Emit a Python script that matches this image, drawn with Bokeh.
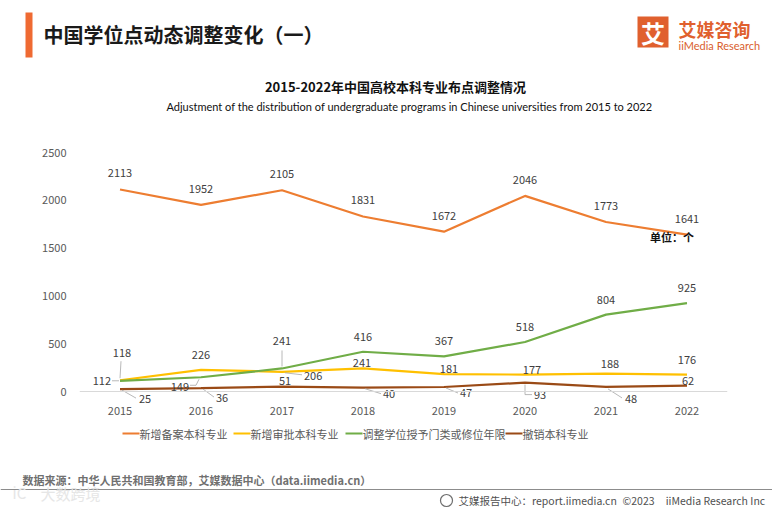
import numpy as np
from bokeh.plotting import figure
from bokeh.models import Range1d, FixedTicker, Span
from bokeh.layouts import column
from bokeh.core.properties import value
from bokeh.embed import file_html
from bokeh.resources import INLINE

# ---------------- data ----------------
years = ["2015", "2016", "2017", "2018", "2019", "2020", "2021", "2022"]
beian = [2113, 1952, 2105, 1831, 1672, 2046, 1773, 1641]      # 新增备案本科专业
shenpi = [118, 226, 206, 241, 181, 177, 188, 176]             # 新增审批本科专业
tiaozheng = [112, 149, 241, 416, 367, 518, 804, 925]          # 调整学位授予门类或修位年限
chexiao = [25, 36, 51, 40, 47, 93, 48, 62]                    # 撤销本科专业
series_names = ["新增备案本科专业", "新增审批本科专业", "调整学位授予门类或修位年限", "撤销本科专业"]
y_ticks = [0, 500, 1000, 1500, 2000, 2500]

# ---------------- styles ----------------
colors = ["#ED7D31", "#FFC000", "#70AD47", "#9A4A16"]
CJK = "Noto Sans CJK SC"
LAT = "Lato"
W = 772
FRAME_W = 648
PX_PER_UNIT_Y = 239 / 2500      # px per data unit
Y_MAX = 2500
Y_MIN = -13 / PX_PER_UNIT_Y      # room below the zero line for labels

# label offsets (px) and alignment per series
lab_beian = dict(dx=[0]*8, dy=[-16]*8, align=["center"]*8)
lab_shenpi = dict(dx=[2, 0, 22, -1, 5, 7, 4, 0],
                  dy=[-27, -15, 4, -5, -5, -5, -10, -15],
                  align=["center", "center", "left", "center", "center", "center", "center", "center"])
lab_tiao = dict(dx=[-9, -12, 0, 0, 0, 0, 0, 0],
                dy=[0, 10, -27, -15, -15, -15, -15, -15],
                align=["right", "right", "center", "center", "center", "center", "center", "center"])
lab_chex = dict(dx=[19, 15, 3, 20, 16, 9, 19, 1],
                dy=[10, 10, -6, 6, 6, 12, 12, -5],
                align=["left", "left", "center", "left", "left", "left", "left", "center"])

# leader lines: (series, index, dx0, dy0, dx1, dy1) in px
leaders = [
    ("t", 0, -1, 0, -8, 0),
    ("t", 1, -2, 2, -5, 8), ("t", 1, -5, 8, -11, 8),
    ("t", 2, 0, -2, 0, -18),
    ("s", 0, 0, -2, 1, -19),
    ("s", 2, 3, 1, 20, 3),
    ("c", 0, 2, 1, 16, 9),
    ("c", 1, 2, 1, 13, 9),
    ("c", 3, 2, 1, 18, 6),
    ("c", 4, 2, 1, 14, 6),
    ("c", 5, 0, 2, 0, 12), ("c", 5, 0, 12, 7, 12),
    ("c", 6, 2, 2, 16, 11),
]


def blank(h):
    f = figure(width=W, height=h, x_range=Range1d(0, W), y_range=Range1d(h, 0),
               x_axis_type=None, y_axis_type=None, toolbar_location=None,
               output_backend="svg", min_border=0, outline_line_color=None)
    f.grid.visible = False
    if "frame_align" in f.properties():
        f.frame_align = False
    return f


# ---------------- header ----------------
hdr = blank(132)
hdr.quad(left=[25], right=[32], top=[12], bottom=[57], color="#EF6A32", line_color=None)
hdr.text(x=[43], y=[34], text=["中国学位点动态调整变化（一）"], text_font=value(CJK),
         text_font_size="20px", text_font_style="bold", text_color="#1a1a1a",
         text_baseline="middle", text_align="left")
# logo
hdr.quad(left=[637], right=[668], top=[16], bottom=[47], color="#E0602E", line_color=None)
hdr.text(x=[652.5], y=[32], text=["艾"], text_font=value(CJK), text_font_size="24px",
         text_font_style="bold", text_color="white", text_align="center", text_baseline="middle")
hdr.text(x=[678], y=[28], text=["艾媒咨询"], text_font=value(CJK), text_font_size="18px",
         text_font_style="bold", text_color="#E0602E", text_align="left", text_baseline="middle")
hdr.text(x=[678], y=[45], text=["iiMedia Research"], text_font=value(LAT), text_font_size="11px",
         text_color="#D9602E", text_align="left", text_baseline="middle")
# chart titles
hdr.text(x=[395], y=[86], text=["2015-2022年中国高校本科专业布点调整情况"], text_font=value(CJK),
         text_font_size="13px", text_font_style="bold", text_color="#111111",
         text_align="center", text_baseline="middle")
hdr.text(x=[409], y=[106], text=["Adjustment of the distribution of undergraduate programs in Chinese universities from 2015 to 2022"],
         text_font=value(LAT), text_font_size="11px", text_color="#111111",
         text_align="center", text_baseline="middle")

# ---------------- main chart ----------------
p = figure(width=W, height=288, x_range=Range1d(0, len(years)), y_range=Range1d(Y_MIN, Y_MAX),
           toolbar_location=None, output_backend="svg",
           min_border_left=79, min_border_right=45, min_border_top=20, min_border_bottom=16,
           outline_line_color=None)
p.grid.visible = False
xs = np.arange(len(years)) + 0.5

p.add_layout(Span(location=0, dimension="width", line_color="#D9D9D9", line_width=1))

p.xaxis.ticker = FixedTicker(ticks=list(xs))
p.xaxis.major_label_overrides = {float(x): y for x, y in zip(xs, years)}
p.xaxis.axis_line_color = None
p.xaxis.major_tick_line_color = None
p.xaxis.minor_tick_line_color = None
p.xaxis.major_label_standoff = -4
p.xaxis.major_label_text_font = CJK
p.xaxis.major_label_text_font_size = "11px"
p.xaxis.major_label_text_color = "#595959"

p.yaxis.ticker = FixedTicker(ticks=y_ticks)
p.yaxis.axis_line_color = None
p.yaxis.major_tick_line_color = None
p.yaxis.minor_tick_line_color = None
p.yaxis.major_label_standoff = 7
p.yaxis.major_label_text_font = CJK
p.yaxis.major_label_text_font_size = "11px"
p.yaxis.major_label_text_color = "#595959"

all_series = [beian, shenpi, tiaozheng, chexiao]
all_labels = [lab_beian, lab_shenpi, lab_tiao, lab_chex]
for vals, col in zip(all_series, colors):
    p.line(xs, vals, line_color=col, line_width=2.2)

px_x = len(years) / FRAME_W
px_y = 1 / PX_PER_UNIT_Y
smap = {"b": beian, "s": shenpi, "t": tiaozheng, "c": chexiao}
x0, y0, x1, y1 = [], [], [], []
for s, i, a, b, c, d in leaders:
    v = smap[s][i]
    x0.append(xs[i] + a * px_x); y0.append(v - b * px_y)
    x1.append(xs[i] + c * px_x); y1.append(v - d * px_y)
p.segment(x0, y0, x1, y1, line_color="#A6A6A6", line_width=0.8)

for vals, lab in zip(all_series, all_labels):
    p.text(x=list(xs), y=vals, text=[str(v) for v in vals],
           x_offset=lab["dx"], y_offset=lab["dy"], text_align=lab["align"],
           text_baseline="middle", text_font=value(CJK), text_font_size="11px",
           text_color="#404040")

p.text(x=[xs[-1]], y=[beian[-1]], text=["单位：个"], x_offset=[-15], y_offset=[2],
       text_align="center", text_baseline="middle", text_font=value(CJK),
       text_font_size="11px", text_font_style="bold", text_color="#111111")

# ---------------- footer ----------------
ftr = blank(90)
leg_x = [122, 233, 345, 505]
ftr.segment(x0=leg_x, y0=[13]*4, x1=[x + 17 for x in leg_x], y1=[13]*4,
            line_color=colors, line_width=2.2)
ftr.text(x=[x + 17 for x in leg_x], y=[13]*4, text=series_names, text_font=value(CJK),
         text_font_size="11px", text_color="#595959", text_align="left", text_baseline="middle")
ftr.text(x=[22], y=[59], text=["数据来源：中华人民共和国教育部，艾媒数据中心（data.iimedia.cn）"],
         text_font=value(CJK), text_font_size="11px", text_font_style="bold",
         text_color="#707070", text_align="left", text_baseline="middle")
ftr.segment(x0=[0], y0=[69], x1=[W], y1=[69], line_color="#8C8C8C", line_width=1)
ftr.text(x=[12, 40], y=[72, 73], text=["iC", "大数跨境"], text_font=value(CJK),
         text_font_size="15px", text_color="#E6E6E6", text_align="left", text_baseline="middle")
ftr.circle(x=[446], y=[80], radius=6, fill_color=None, line_color="#6E6E6E", line_width=1.2)
ftr.text(x=[458, 622, 767], y=[80, 80, 80],
         text=["艾媒报告中心：report.iimedia.cn", "©2023", "iiMedia Research  Inc"],
         text_font=value(CJK), text_font_size="10.5px", text_color="#505050",
         text_align=["left", "left", "right"], text_baseline="middle")

layout = column(hdr, p, ftr, spacing=0)
open("out.html", "w").write(file_html(layout, INLINE))
